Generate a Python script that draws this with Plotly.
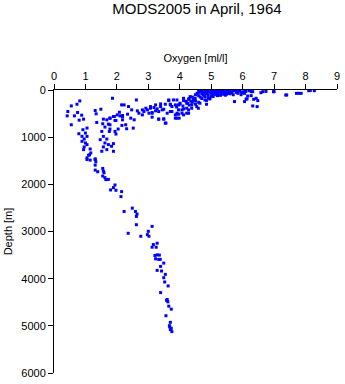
import plotly.graph_objects as go

oxygen = [
    0.55, 0.73, 0.82, 0.44, 0.65, 0.42, 0.75, 0.88, 0.80, 0.55, 0.94, 1.34, 1.31, 1.49, 1.36, 1.57, 1.68, 1.78, 1.89, 2.01,
    2.10, 1.94, 2.18, 1.73, 1.55, 1.62, 1.78, 1.94, 2.04, 1.52, 1.57, 1.68, 1.47, 1.62, 1.73, 1.57, 1.83, 1.89, 1.68, 1.52,
    1.05, 0.92, 1.00, 0.79, 0.89, 1.05, 0.96, 0.89, 1.00, 1.05, 0.96, 0.94, 1.15, 1.17, 1.13, 1.05, 1.31, 2.15, 1.86,
    1.10, 1.05, 1.15, 1.31, 1.33, 1.31, 1.31, 1.39, 1.55, 1.57, 1.59, 1.55, 1.62, 1.65, 1.73, 1.94, 1.89, 1.80, 1.97, 2.15, 2.13,
    2.23, 2.49, 2.59, 2.64, 2.62, 2.62, 3.12, 2.36, 3.00, 2.76, 3.02, 2.97, 3.28, 3.16, 3.12, 3.25, 3.28, 3.21, 3.23, 3.33,
    3.49, 3.39, 3.28, 3.42, 3.54, 3.49, 3.52, 3.63, 3.39, 3.60, 3.62, 3.65, 3.73, 3.56, 3.70, 3.67, 3.73, 3.75, 3.70, 3.68,
    3.58, 3.35, 3.38,
    2.62, 2.23, 2.37, 2.47, 2.65, 2.08, 1.92, 1.78, 2.18, 2.34, 2.44, 2.55, 2.70, 2.81, 2.86, 2.97, 3.07, 3.12, 3.23, 3.39,
    3.44, 3.33, 3.49, 3.56, 3.65, 3.80, 3.75, 3.70, 3.86, 3.91, 2.18, 1.97, 2.16, 2.31, 2.52, 1.97, 1.89, 2.28, 2.81, 2.92,
    3.02, 3.18, 3.28, 3.54, 3.70, 1.78, 1.76,
    3.07, 3.23, 3.39, 3.65, 3.70, 3.49, 3.12, 3.33, 3.60, 3.75, 3.91, 4.07, 4.22, 4.38, 3.96, 4.12, 4.28, 4.49, 4.59, 3.12,
    3.33, 3.49, 3.54, 3.98, 4.28, 4.12,
    3.91, 4.12, 4.33, 4.43, 4.22, 4.01, 3.86, 3.96, 4.12, 4.28, 4.38, 4.54, 4.64, 4.85, 4.80, 4.96, 5.06, 5.27, 5.48, 5.74,
    3.86, 4.07, 3.96, 4.22,
    6.06, 6.11, 6.35, 6.48, 6.32, 6.46, 6.58, 6.74, 6.98, 7.37, 7.71, 7.86, 8.10, 8.28, 6.27, 6.06, 5.85, 5.53, 6.16, 5.90,
    6.04, 6.25, 6.32, 6.27, 6.14, 6.43, 6.64, 7.00, 7.40, 8.15, 7.78,
    4.60, 4.70, 4.80, 4.90, 5.00, 5.10, 5.20, 5.30, 5.40, 5.50, 5.60, 5.70, 5.80, 5.90, 6.00, 4.70, 4.80, 4.90, 5.00, 5.10,
    5.20, 5.30, 4.60, 4.50, 4.80, 5.00, 4.90, 4.70, 5.20, 5.40, 5.60, 5.50, 4.40, 4.30, 4.60, 5.00, 5.20, 5.40, 5.60, 5.80,
    6.10, 6.20, 5.30, 5.10, 4.95, 4.85, 4.50, 4.40, 4.20, 4.00, 4.10, 3.90, 4.30, 4.50, 4.60, 4.65, 4.75, 4.85, 4.95, 5.05,
    5.15, 5.25, 5.35, 5.45, 5.55, 5.65, 5.75, 5.85, 5.95, 4.55, 4.65, 4.75, 4.85, 5.05, 5.15, 5.35, 5.45, 4.45, 4.35, 4.25,
    5.70, 5.95, 6.05,
]

depth = [
    337, 302, 232, 456, 548, 548, 477, 534, 639, 737, 618, 505, 435, 407, 688, 618, 632, 597, 562, 527,
    548, 646, 562, 723, 716, 786, 828, 878, 828, 878, 983, 1039, 1053, 1123, 1158, 1207, 1193, 1299, 1264, 1299,
    807, 842, 913, 927, 983, 983, 1039, 1088, 1123, 1158, 1207, 1264, 1250, 1334, 1376, 1439, 1460, 316, 175,
    1382, 1473, 1487, 1473, 1522, 1593, 1698, 1733, 1663, 1719, 1754, 1824, 1859, 1901, 1895, 2014, 2070, 2119, 2126, 2154, 2260,
    2575, 2505, 2575, 2631, 2680, 2856, 2891, 3038, 2996, 3101, 3101, 3066, 3249, 3277, 3333, 3333, 3495, 3509, 3579, 3593,
    3670, 3740, 3824, 3838, 3909, 3979, 4070, 4154, 4295, 4442, 4491, 4583, 4646, 4786, 4926, 4997, 5053, 5123, 5080, 5020,
    4460, 3500, 3590,
    211, 316, 351, 421, 442, 471, 562, 597, 541, 513, 597, 632, 492, 527, 456, 421, 386, 492, 442, 351,
    421, 618, 611, 702, 211, 211, 351, 456, 527, 597, 632, 646, 751, 822, 808, 934, 1137, 737, 421, 386,
    492, 372, 400, 302, 302, 737, 878,
    352, 316, 295, 225, 316, 408, 478, 457, 492, 457, 492, 422, 387, 316, 316, 225, 197, 176, 387, 576,
    618, 618, 702, 597, 492, 527,
    211, 176, 140, 211, 281, 281, 316, 421, 400, 421, 386, 351, 281, 302, 211, 176, 140, 105, 91, 246,
    597, 492, 513, 492,
    246, 190, 197, 225, 338, 352, 57, 30, 36, 106, 71, 71, 15, 15, 36, 71, 36, 71, 127, 0,
    50, 0, 35, 120, 190, 176, 35, 35, 106, 10, 70,
    10, 30, 5, 20, 0, 15, 40, 10, 25, 5, 30, 20, 50, 10, 60, 80, 60, 100, 70, 50,
    90, 60, 120, 100, 140, 130, 160, 180, 120, 90, 80, 60, 150, 180, 50, 40, 0, 50, 0, 15,
    30, 15, 110, 100, 190, 220, 230, 260, 240, 300, 340, 360, 320, 300, 260, 20, 45, 75, 45, 90,
    70, 25, 80, 40, 15, 55, 5, 70, 40, 70, 150, 110, 35, 10, 35, 0, 110, 200, 240, 280,
    100, 100, 10,
]

x_ticks = [0, 1, 2, 3, 4, 5, 6, 7, 8, 9]
y_ticks = [0, 1000, 2000, 3000, 4000, 5000, 6000]

fig = go.Figure()
fig.add_trace(go.Scatter(
    x=oxygen, y=depth, mode="markers",
    marker=dict(symbol="square", size=3, color="#0000ff", line=dict(width=0)),
    showlegend=False, hoverinfo="skip",
))

font_family = "Liberation Sans, Arial, sans-serif"

fig.update_layout(
    width=345, height=384,
    margin=dict(l=54, r=5, t=90, b=9),
    paper_bgcolor="white", plot_bgcolor="white",
    font=dict(family=font_family, size=11, color="black"),
    title=dict(text="MODS2005 in April, 1964", x=0.571, xanchor="center",
               y=0.978, yanchor="middle", yref="container",
               font=dict(size=15, color="black", family=font_family), pad=dict(t=0, b=0)),
    xaxis=dict(
        side="top", range=[0, 9], tickmode="array", tickvals=x_ticks,
        ticktext=[str(v) for v in x_ticks],
        showgrid=False, zeroline=False, showline=True, linecolor="black", linewidth=1,
        ticks="outside", ticklen=5, tickcolor="black", tickwidth=1,
        title=dict(text="Oxygen [ml/l]", standoff=4, font=dict(size=11)),
        tickfont=dict(size=11),
    ),
    yaxis=dict(
        range=[6000, 0], tickmode="array", tickvals=y_ticks,
        ticktext=[str(v) for v in y_ticks],
        showgrid=False, zeroline=False, showline=True, linecolor="black", linewidth=1,
        ticks="outside", ticklen=5, tickcolor="black", tickwidth=1,
        title=dict(text="Depth [m]", standoff=6, font=dict(size=11)),
        tickfont=dict(size=11),
    ),
)

fig.write_html("out.html")
